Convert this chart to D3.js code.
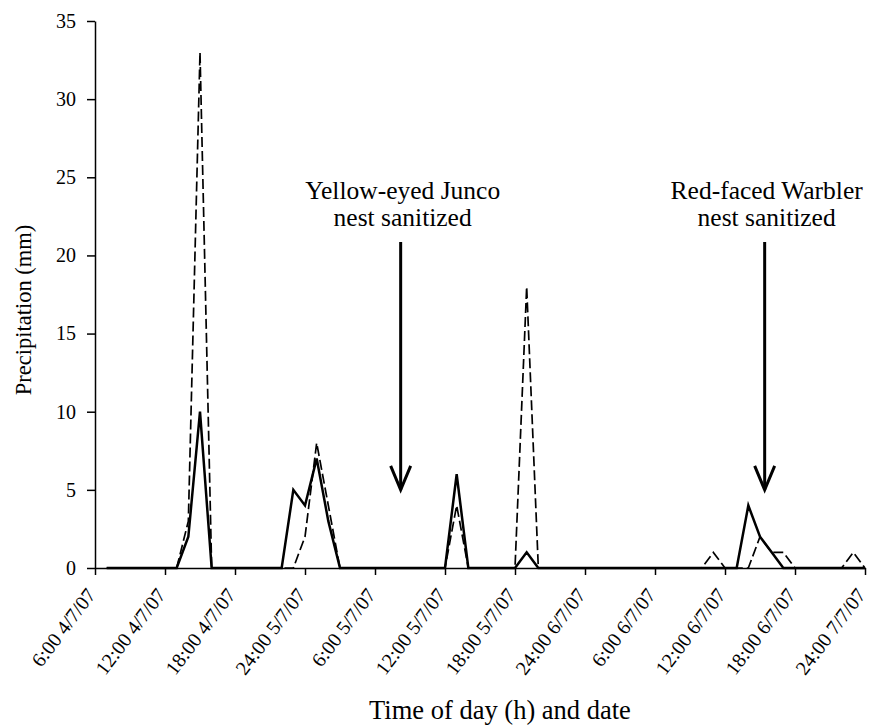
<!DOCTYPE html>
<html>
<head>
<script src="https://d3js.org/d3.v7.min.js"></script>
<style>
    body { margin: 0; background: #fff; }
    text { font-family: "Liberation Serif", "Times New Roman", serif; fill: #000; }
</style>
</head>
<body>
<script>

    // hours since 6:00 4/7/07, one reading per hour
    var hours = d3.range(1, 67);

    // solid line
    var rainSolid = [
        0, 0, 0, 0, 0, 0, 0, 2, 10, 0,
        0, 0, 0, 0, 0, 0, 5, 4, 7, 3,
        0, 0, 0, 0, 0, 0, 0, 0, 0, 0,
        6, 0, 0, 0, 0, 0, 1, 0, 0, 0,
        0, 0, 0, 0, 0, 0, 0, 0, 0, 0,
        0, 0, 0, 0, 0, 4, 2, 1, 0, 0,
        0, 0, 0, 0, 0, 0
    ];

    // dashed line
    var rainDashed = [
        0, 0, 0, 0, 0, 0, 0, 3, 33, 0,
        0, 0, 0, 0, 0, 0, 0, 2, 8, 4,
        0, 0, 0, 0, 0, 0, 0, 0, 0, 0,
        4, 0, 0, 0, 0, 0, 18, 0, 0, 0,
        0, 0, 0, 0, 0, 0, 0, 0, 0, 0,
        0, 0, 1, 0, 0, 0, 2, 1, 1, 0,
        0, 0, 0, 0, 1, 0
    ];

    var tickHours = [0, 6, 12, 18, 24, 30, 36, 42, 48, 54, 60, 66];
    var tickLabels = [
        '6:00 4/7/07', '12:00 4/7/07', '18:00 4/7/07', '24:00 5/7/07',
        '6:00 5/7/07', '12:00 5/7/07', '18:00 5/7/07', '24:00 6/7/07',
        '6:00 6/7/07', '12:00 6/7/07', '18:00 6/7/07', '24:00 7/7/07'
    ];
    var yTicks = [0, 5, 10, 15, 20, 25, 30, 35];

    // arrows: hour position, two lines of text
    var noteHours = [26.2, 57.4];
    var noteTexts = [
        ['Yellow-eyed Junco', 'nest sanitized'],
        ['Red-faced Warbler', 'nest sanitized']
    ];

    var width = 870, height = 726;

    var x = d3.scaleLinear().domain([0, 66]).range([95, 865]);
    var y = d3.scaleLinear().domain([0, 35]).range([568, 21]);

    var svg = d3.select('body')
        .append('svg')
        .attr('width', width)
        .attr('height', height);

    // axes
    var xAxis = d3.axisBottom(x)
        .tickValues(tickHours)
        .tickSize(7)
        .tickSizeOuter(0)
        .tickFormat((d, i) => tickLabels[i]);

    var gx = svg.append('g')
        .attr('transform', 'translate(0,' + y(0) + ')')
        .call(xAxis);
    gx.selectAll('text')
        .style('font-size', '20px')
        .attr('text-anchor', 'end')
        .attr('dy', null)
        .attr('y', null)
        .attr('transform', 'translate(1,27) rotate(-53)');

    var yAxis = d3.axisLeft(y)
        .tickValues(yTicks)
        .tickSize(8)
        .tickPadding(11)
        .tickSizeOuter(0);

    var gy = svg.append('g')
        .attr('transform', 'translate(' + x(0) + ',0)')
        .call(yAxis);
    gy.selectAll('text').style('font-size', '20px');

    svg.selectAll('.domain, .tick line')
        .attr('stroke', '#000')
        .attr('stroke-width', 1.5);

    // axis titles
    svg.append('text')
        .attr('x', 500)
        .attr('y', 719)
        .attr('text-anchor', 'middle')
        .style('font-size', '26.5px')
        .text('Time of day (h) and date');

    svg.append('text')
        .attr('transform', 'translate(31,310) rotate(-90)')
        .attr('text-anchor', 'middle')
        .style('font-size', '22.5px')
        .text('Precipitation (mm)');

    // lines
    var line = d3.line()
        .x(d => x(d[0]))
        .y(d => y(d[1]));

    svg.append('path')
        .datum(hours.map((h, i) => [h, rainDashed[i]]))
        .attr('d', line)
        .attr('fill', 'none')
        .attr('stroke', '#000')
        .attr('stroke-width', 1.7)
        .attr('stroke-dasharray', '10,4');

    svg.append('path')
        .datum(hours.map((h, i) => [h, rainSolid[i]]))
        .attr('d', line)
        .attr('fill', 'none')
        .attr('stroke', '#000')
        .attr('stroke-width', 2.5);

    // annotations
    noteHours.forEach((h, i) => {
        var ax = x(h);
        var tip = y(5);
        var g = svg.append('g');
        g.append('path')
            .attr('d', 'M' + ax + ',242 L' + ax + ',' + tip)
            .attr('stroke', '#000')
            .attr('stroke-width', 3)
            .attr('fill', 'none');
        g.append('path')
            .attr('d', 'M' + (ax - 10) + ',' + (tip - 24) + ' L' + ax + ',' + tip + ' L' + (ax + 10) + ',' + (tip - 24))
            .attr('stroke', '#000')
            .attr('stroke-width', 3)
            .attr('fill', 'none');
        g.selectAll('text')
            .data(noteTexts[i])
            .enter()
            .append('text')
            .attr('x', ax + 2)
            .attr('y', (d, j) => 199 + j * 27)
            .attr('text-anchor', 'middle')
            .style('font-size', '25.5px')
            .text(d => d);
    });

</script>
</body>
</html>
